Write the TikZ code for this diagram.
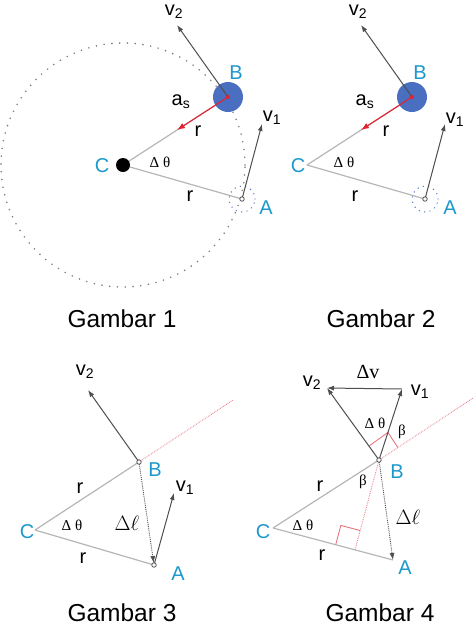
\documentclass[tikz,border=0pt]{standalone}
\usepackage{fontspec}
\setmainfont{Liberation Sans}
\newfontfamily\serifgr{Liberation Serif}
\usetikzlibrary{calc}
\usetikzlibrary{positioning}
\usetikzlibrary{arrows.meta}

\definecolor{labelcyan}{RGB}{28,152,204}
\definecolor{diskblue}{RGB}{74,110,192}
\definecolor{arrowred}{RGB}{225,35,50}
\definecolor{pinkline}{RGB}{232,118,128}
\definecolor{radgray}{RGB}{182,182,182}
\definecolor{vecgray}{RGB}{78,78,78}

\tikzset{
	radline/.style={radgray, line width=1.2pt},
	vec/.style={vecgray, line width=1pt, -{Latex[length=7pt,width=5pt]}},
	ptmark/.style={circle, draw=vecgray, fill=white, line width=0.8pt, inner sep=0pt, minimum size=4.5pt},
	lbl/.style={font=\fontsize{20}{22}\selectfont},
	pname/.style={lbl, text=labelcyan},
	ang/.style={font=\serifgr\fontsize{15}{17}\selectfont},
	gcap/.style={font=\fontsize{24.5}{28}\selectfont, anchor=base},
	reddot/.style={pinkline, line width=0.8pt, densely dotted},
}

\begin{document}
\begin{tikzpicture}[x=1pt, y=-1pt]
	\useasboundingbox (0,0) rectangle (474,625);
	
	% Gambar 1
	\coordinate (C1) at (123,165);
	\coordinate (B1) at (228,97);
	\coordinate (A1) at (242,199);
	\coordinate (V21) at (177,25);
	\coordinate (V11) at (262,124);
	\coordinate (R1) at (177,130);
	
	\draw[gray, line width=1.8pt, line cap=round, dash pattern=on 0pt off 7.8pt] (C1) circle[radius=122pt];
	\draw[radline] (C1) -- (B1);
	\draw[radline] (C1) -- (A1);
	\fill[diskblue] (B1) circle[radius=15pt];
	\draw[diskblue, line width=1.4pt, line cap=round, dash pattern=on 0pt off 5.5pt] (A1) circle[radius=13pt];
	\draw[vec] (B1) -- (V21);
	\draw[vec] (A1) -- (V11);
	\draw[arrowred, line width=1.1pt, -{Latex[length=8pt,width=6pt]}] (B1) -- (R1);
	\fill[arrowred] (B1) circle[radius=2pt];
	\node[circle, fill=black, minimum size=14pt, inner sep=0pt] (dotC1) at (C1) {};
	\node[ptmark] (markA1) at (A1) {};
	
	\node[lbl] (v2a) at (174,12) {v\textsubscript{2}};
	\node[lbl] (as1) at (181,102) {a\textsubscript{s}};
	\node[lbl] (rB1) at (198,131) {r};
	\node[ang] (th1) at (160,162) {Δ θ};
	\node[pname] (nC1) at (102,166) {C};
	\node[pname] (nB1) at (236,73) {B};
	\node[lbl] (rA1) at (190,196) {r};
	\node[pname] (nA1) at (266,208) {A};
	\node[lbl] (v1a) at (272,118) {v\textsubscript{1}};
	\node[gcap] (cap1) at (122,327) {Gambar 1};
	
	% Gambar 2
	\coordinate (C2) at (307,165);
	\coordinate (B2) at (412,97);
	\coordinate (A2) at (425,199);
	\coordinate (V22) at (361,25);
	\coordinate (V12) at (445,124);
	\coordinate (R2) at (361,130);
	
	\draw[radline] (C2) -- (B2);
	\draw[radline] (C2) -- (A2);
	\fill[diskblue] (B2) circle[radius=15pt];
	\draw[diskblue, line width=1.4pt, line cap=round, dash pattern=on 0pt off 5.5pt] (A2) circle[radius=13pt];
	\draw[vec] (B2) -- (V22);
	\draw[vec] (A2) -- (V12);
	\draw[arrowred, line width=1.1pt, -{Latex[length=8pt,width=6pt]}] (B2) -- (R2);
	\fill[arrowred] (B2) circle[radius=2pt];
	\node[ptmark] (markA2) at (A2) {};
	
	\node[lbl] (v2b) at (358,12) {v\textsubscript{2}};
	\node[lbl] (as2) at (365,102) {a\textsubscript{s}};
	\node[lbl] (rB2) at (386,131) {r};
	\node[ang] (th2) at (344,162) {Δ θ};
	\node[pname] (nC2) at (298,166) {C};
	\node[pname] (nB2) at (420,73) {B};
	\node[lbl] (rA2) at (355,196) {r};
	\node[pname] (nA2) at (450,208) {A};
	\node[lbl] (v1b) at (455,120) {v\textsubscript{1}};
	\node[gcap] (cap2) at (381,327) {Gambar 2};
	
	% Gambar 3
	\coordinate (C3) at (35,530);
	\coordinate (B3) at (139,462);
	\coordinate (A3) at (154,565);
	\coordinate (V23) at (88,390);
	\coordinate (V13) at (174,493);
	\coordinate (E3) at (233,400);
	
	\draw[radline] (C3) -- (B3);
	\draw[radline] (C3) -- (A3);
	\draw[reddot] (B3) -- (E3);
	\draw[vecgray, line width=0.9pt, densely dotted, -{Latex[length=7pt,width=5pt]}, shorten >=2pt] (B3) -- (A3);
	\draw[vec] (B3) -- (V23);
	\draw[vec] (A3) -- (V13);
	\node[ptmark] (markB3) at (B3) {};
	\node[ptmark] (markA3) at (A3) {};
	
	\node[lbl] (v2c) at (85,372) {v\textsubscript{2}};
	\node[pname] (nB3) at (155,470) {B};
	\node[lbl] (v1c) at (185,488) {v\textsubscript{1}};
	\node[lbl] (rB3) at (80,488) {r};
	\node[lbl] (rA3) at (83,558) {r};
	\node[ang] (th3) at (72,525) {Δ θ};
	\node[lbl] (dl3) at (127,523) {$\Delta\ell$};
	\node[pname] (nC3) at (27,532) {C};
	\node[pname] (nA3) at (178,574) {A};
	\node[gcap] (cap3) at (122,621) {Gambar 3};
	
	% Gambar 4
	\coordinate (C4) at (273,528);
	\coordinate (B4) at (379,460);
	\coordinate (A4) at (393,560);
	\coordinate (V24) at (327,388);
	\coordinate (V14) at (402,389);
	\coordinate (E4) at (473,398);
	\coordinate (F4) at ($(C4)!(B4)!(A4)$);
	\coordinate (P4) at ($(B4)!29pt!(V14)$);
	\coordinate (Q4) at ($(B4)!(P4)!(V24)$);
	\coordinate (S4) at ($(B4)!(P4)!(E4)$);
	\coordinate (M4) at ($(F4)!20pt!(C4)$);
	\coordinate (N4) at ($(F4)!20pt!(B4)$);
	
	\draw[radline] (C4) -- (B4);
	\draw[radline] (C4) -- (A4);
	\draw[reddot] (B4) -- (E4);
	\draw[reddot] (B4) -- (F4);
	\draw[pinkline, line width=0.9pt] (M4) -- ($(M4)+(N4)-(F4)$) -- (N4);
	\draw[pinkline, line width=0.9pt] (Q4) -- (P4) -- (S4);
	\draw[vecgray, line width=0.9pt, densely dotted, -{Latex[length=7pt,width=5pt]}] (B4) -- (A4);
	\draw[vec] (B4) -- (V24);
	\draw[vec] (B4) -- (V14);
	\draw[vec] (V14) -- (V24);
	\node[ptmark] (markB4) at (B4) {};
	
	\node[lbl] (dv4) at (368,372) {\serifgr Δv};
	\node[lbl] (v2d) at (312,383) {v\textsubscript{2}};
	\node[lbl] (v1d) at (420,392) {v\textsubscript{1}};
	\node[ang] (th4a) at (375,423) {Δ θ};
	\node[ang] (be4a) at (402,432) {β};
	\node[ang] (be4b) at (363,482) {β};
	\node[lbl] (dl4) at (408,517) {$\Delta\ell$};
	\node[lbl] (rB4) at (320,486) {r};
	\node[lbl] (rA4) at (322,555) {r};
	\node[ang] (th4b) at (303,525) {Δ θ};
	\node[pname] (nC4) at (263,532) {C};
	\node[pname] (nB4) at (397,472) {B};
	\node[pname] (nA4) at (405,568) {A};
	\node[gcap] (cap4) at (380,621) {Gambar 4};
\end{tikzpicture}
\end{document}
